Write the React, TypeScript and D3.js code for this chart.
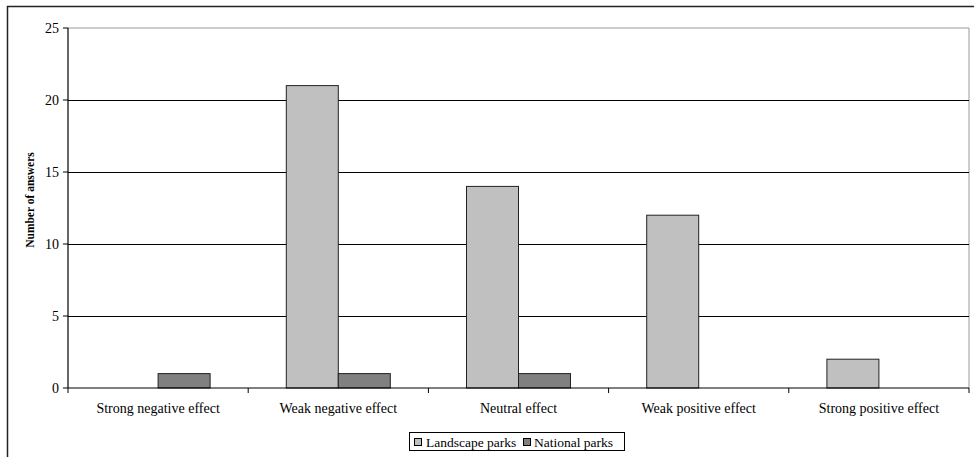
import React from "react";
import * as d3 from "d3";

const categories = [
  "Strong negative effect",
  "Weak negative effect",
  "Neutral effect",
  "Weak positive effect",
  "Strong positive effect",
];
const seriesNames = ["Landscape parks", "National parks"];
const landscape = [0, 21, 14, 12, 2];
const national = [1, 1, 1, 0, 0];
const yTicks = [0, 5, 10, 15, 20, 25];

const colors = ["#C0C0C0", "#808080"];
const font = '"Liberation Serif", "Times New Roman", serif';

export default function App() {
  const W = 974;
  const H = 457;
  const left = 68;
  const right = 969;
  const top = 28;
  const bottom = 388;

  const x = d3.scaleBand<string>().domain(categories).range([left, right]).paddingInner(0).paddingOuter(0);
  const y = d3.scaleLinear().domain([0, 25]).range([bottom, top]);
  const bw = 52;
  const series = [landscape, national];

  return (
    <svg
      width={W}
      height={H}
      style={{ position: "absolute", left: 0, top: 0, display: "block", fontFamily: font }}
    >
      <rect x={0} y={0} width={W} height={H} fill="#fff" />
      <rect x={7.5} y={6.5} width={1100} height={600} fill="none" stroke="#222" strokeWidth={1.5} />

      {/* plot border gray */}
      <line x1={left} x2={right} y1={y(25)} y2={y(25)} stroke="#999" strokeWidth={1} />
      <line x1={right} x2={right} y1={top} y2={bottom} stroke="#999" strokeWidth={1} />

      {/* gridlines */}
      {yTicks.filter((t) => t > 0 && t < 25).map((t) => (
        <line key={t} x1={left} x2={right} y1={Math.round(y(t)) + 0.5} y2={Math.round(y(t)) + 0.5} stroke="#000" strokeWidth={1} />
      ))}

      {/* bars */}
      {categories.map((c, i) => {
        const center = (x(c) as number) + x.bandwidth() / 2;
        return series.map((s, k) => {
          const v = s[i];
          if (v <= 0) return null;
          const bx = center - bw + k * bw;
          return (
            <rect
              key={c + k}
              x={bx}
              y={y(v)}
              width={bw}
              height={y(0) - y(v)}
              fill={colors[k]}
              stroke="#222"
              strokeWidth={1}
            />
          );
        });
      })}

      {/* y axis */}
      <line x1={left} x2={left} y1={top} y2={bottom} stroke="#000" strokeWidth={1.2} />
      {yTicks.map((t) => (
        <g key={t}>
          <line x1={left - 5} x2={left} y1={y(t)} y2={y(t)} stroke="#000" strokeWidth={1} />
          <text x={left - 9} y={y(t)} dy="0.35em" textAnchor="end" fontSize={14} fill="#000" style={{ fontFamily: font }}>
            {t}
          </text>
        </g>
      ))}

      {/* x axis */}
      <line x1={left} x2={right} y1={bottom} y2={bottom} stroke="#000" strokeWidth={1.2} />
      {categories.map((c, i) => (
        <line key={"t" + i} x1={x(c) as number} x2={x(c) as number} y1={bottom} y2={bottom + 5} stroke="#000" strokeWidth={1} />
      ))}
      <line x1={right} x2={right} y1={bottom} y2={bottom + 5} stroke="#000" strokeWidth={1} />
      {categories.map((c) => (
        <text
          key={"l" + c}
          x={(x(c) as number) + x.bandwidth() / 2}
          y={413}
          textAnchor="middle"
          fontSize={14}
          fill="#000"
          style={{ fontFamily: font }}
        >
          {c}
        </text>
      ))}

      {/* y title */}
      <text
        transform={`translate(34, 200) rotate(-90)`}
        textAnchor="middle"
        fontSize={11.5}
        fontWeight="bold"
        fill="#000"
        style={{ fontFamily: font }}
      >
        Number of answers
      </text>

      {/* legend */}
      <rect x={409.5} y={432.5} width={215} height={18} fill="#fff" stroke="#000" strokeWidth={1} />
      <rect x={414.5} y={438.5} width={7} height={7} fill={colors[0]} stroke="#000" strokeWidth={1} />
      <text x={426} y={446.5} fontSize={13.5} fill="#000" style={{ fontFamily: font }}>{seriesNames[0]}</text>
      <rect x={523.5} y={438.5} width={7} height={7} fill={colors[1]} stroke="#000" strokeWidth={1} />
      <text x={534} y={446.5} fontSize={13.5} fill="#000" style={{ fontFamily: font }}>{seriesNames[1]}</text>
    </svg>
  );
}
